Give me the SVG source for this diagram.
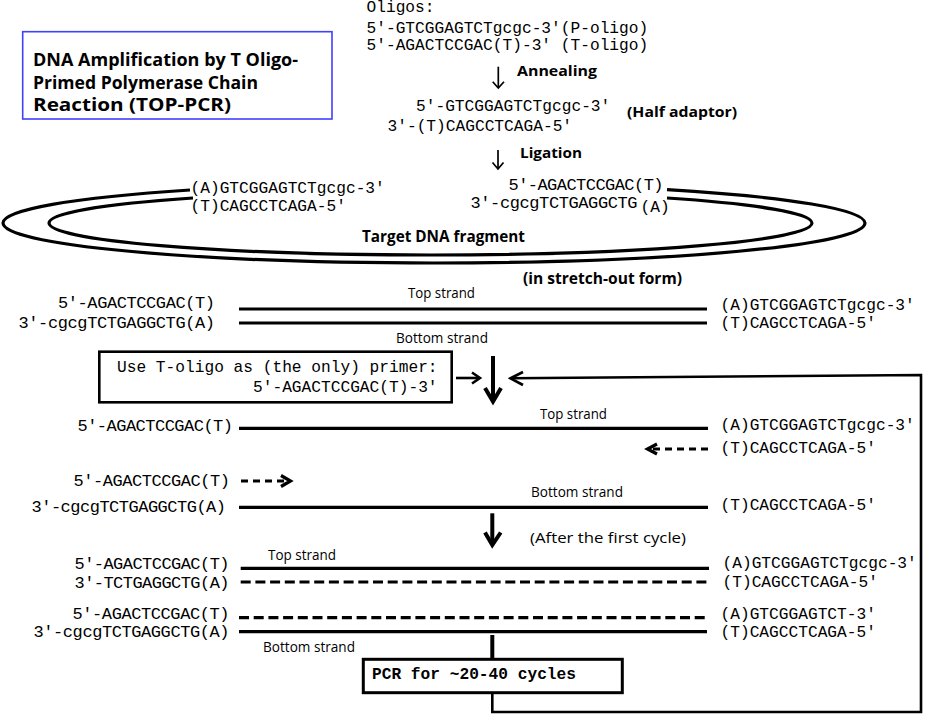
<svg xmlns="http://www.w3.org/2000/svg" width="926" height="717" viewBox="0 0 926 717">
<style>
.m{font-family:"Liberation Mono","Courier New",monospace;font-size:16.2px;fill:#000}
.ml{font-size:17px}
.b{font-family:"Open Sans","Liberation Sans",sans-serif;font-weight:bold;fill:#000}
.s{font-family:"Open Sans","Liberation Sans",sans-serif;font-size:14px;fill:#000}
.ln{stroke:#000;stroke-width:3.2;fill:none}
.ds{stroke-dasharray:10 4.7}
.da{stroke-dasharray:7 5}
.thin{stroke:#000;stroke-width:1.7;fill:none}
.thick{stroke:#000;stroke-width:4;fill:none}
.med{stroke:#000;stroke-width:2.6;fill:none}
</style>
<rect width="926" height="717" fill="#fff"/>

<g id="title">
<rect x="22.7" y="31.7" width="309.3" height="87.3" fill="none" stroke="#4040ff" stroke-width="1.6"/>
<text class="b" font-size="18" x="33" y="66" textLength="265" lengthAdjust="spacingAndGlyphs">DNA Amplification by T Oligo-</text>
<text class="b" font-size="18" x="33" y="89" textLength="225" lengthAdjust="spacingAndGlyphs">Primed Polymerase Chain</text>
<text class="b" font-size="18" x="33" y="111" textLength="198" lengthAdjust="spacingAndGlyphs">Reaction (TOP-PCR)</text>
</g>

<g id="oligos">
<text class="m" x="366.5" y="12">Oligos:</text>
<text class="m" x="366.5" y="32.5">5′-GTCGGAGTCTgcgc-3′(P-oligo)</text>
<text class="m" x="366.5" y="50">5′-AGACTCCGAC(T)-3′ (T-oligo)</text>
</g>

<g id="annealing">
<text class="b" font-size="15" x="517" y="76" textLength="80" lengthAdjust="spacingAndGlyphs">Annealing</text>
</g>

<g id="half-adaptor">
<text class="m" x="416" y="111">5′-GTCGGAGTCTgcgc-3′</text>
<text class="m" x="387.5" y="130.5">3′-(T)CAGCCTCAGA-5′</text>
<text class="b" font-size="15" x="627" y="117" textLength="110" lengthAdjust="spacingAndGlyphs">(Half adaptor)</text>
</g>

<g id="ligation">
<text class="b" font-size="15" x="520" y="158" textLength="62" lengthAdjust="spacingAndGlyphs">Ligation</text>
</g>

<g id="circular-target">
<path class="ln" d="M 190 190 A 431 40 0 0 0 3 223 A 431 40 0 0 0 865 223 A 431 40 0 0 0 667 189.6"/>
<path class="ln" d="M 193 198 A 381.5 32 0 0 0 49 223 A 381.5 32 0 0 0 812 223 A 381.5 32 0 0 0 667 198"/>
<text class="m" x="190.5" y="192.5">(A)GTCGGAGTCTgcgc-3′</text>
<text class="m" x="190.5" y="210.5">(T)CAGCCTCAGA-5′</text>
<text class="m ml" x="508.5" y="190" textLength="155">5′-AGACTCCGAC(T)</text>
<text class="m ml" x="470.5" y="207.5" textLength="167">3′-cgcgTCTGAGGCTG</text>
<text class="m" font-size="15" x="640.5" y="212">(A)</text>
<text class="b" font-size="15.5" x="362" y="242" textLength="163" lengthAdjust="spacingAndGlyphs">Target DNA fragment</text>
<text class="b" font-size="15.5" x="523" y="284" textLength="159" lengthAdjust="spacingAndGlyphs">(in stretch-out form)</text>
</g>

<g id="stretched">
<text class="s" x="408" y="298" textLength="67" lengthAdjust="spacingAndGlyphs">Top strand</text>
<text class="m ml" x="215" y="308" text-anchor="end" textLength="157">5′-AGACTCCGAC(T)</text>
<text class="m ml" x="215" y="327.5" text-anchor="end" textLength="196.5">3′-cgcgTCTGAGGCTG(A)</text>
<line class="ln" x1="239" y1="309" x2="707" y2="309"/>
<line class="ln" x1="239" y1="323" x2="707" y2="323"/>
<text class="m" x="720.5" y="310">(A)GTCGGAGTCTgcgc-3′</text>
<text class="m" x="720.5" y="328">(T)CAGCCTCAGA-5′</text>
<text class="s" x="396" y="343" textLength="92" lengthAdjust="spacingAndGlyphs">Bottom strand</text>
</g>

<g id="primer-box">
<rect x="99.3" y="351.7" width="352.4" height="50.6" fill="none" stroke="#000" stroke-width="2.6"/>
<text class="m" font-size="16.4" x="117" y="371.5">Use T-oligo as (the only) primer:</text>
<text class="m" font-size="16.4" x="253" y="391.5">5′-AGACTCCGAC(T)-3′</text>
</g>

<g id="cycle-1">
<text class="s" x="540" y="419" textLength="67" lengthAdjust="spacingAndGlyphs">Top strand</text>
<text class="m ml" x="233" y="431" text-anchor="end" textLength="155.5">5′-AGACTCCGAC(T)</text>
<line class="ln" x1="239" y1="428.3" x2="708" y2="428.3"/>
<text class="m" x="720.5" y="430">(A)GTCGGAGTCTgcgc-3′</text>
<text class="m" x="720.5" y="453">(T)CAGCCTCAGA-5′</text>
<text class="m ml" x="230" y="486" text-anchor="end" textLength="156.5">5′-AGACTCCGAC(T)</text>
<text class="s" x="531" y="496.5" textLength="92" lengthAdjust="spacingAndGlyphs">Bottom strand</text>
<text class="m ml" x="226" y="512" text-anchor="end" textLength="194.5">3′-cgcgTCTGAGGCTG(A)</text>
<line class="ln" x1="239" y1="507.3" x2="708" y2="507.3"/>
<text class="m" x="720.5" y="510">(T)CAGCCTCAGA-5′</text>
</g>

<g id="after-first-cycle">
<text class="s" font-size="15" x="530" y="543" textLength="156" lengthAdjust="spacingAndGlyphs">(After the first cycle)</text>
<text class="s" x="268" y="560" textLength="68" lengthAdjust="spacingAndGlyphs">Top strand</text>
<text class="m ml" x="229.5" y="569" text-anchor="end" textLength="155">5′-AGACTCCGAC(T)</text>
<line class="ln" x1="240.7" y1="568.3" x2="709" y2="568.3"/>
<text class="m" x="722.5" y="568">(A)GTCGGAGTCTgcgc-3′</text>
<text class="m ml" x="229.5" y="587.5" text-anchor="end" textLength="155">3′-TCTGAGGCTG(A)</text>
<line class="ln ds" x1="240.7" y1="582" x2="708" y2="582"/>
<text class="m" x="722.5" y="586.5">(T)CAGCCTCAGA-5′</text>
<text class="m ml" x="229.5" y="619" text-anchor="end" textLength="157">5′-AGACTCCGAC(T)</text>
<line class="ln ds" x1="239" y1="617.7" x2="708" y2="617.7"/>
<text class="m" x="720.5" y="618.5">(A)GTCGGAGTCT-3′</text>
<text class="m ml" x="229.5" y="637" text-anchor="end" textLength="196">3′-cgcgTCTGAGGCTG(A)</text>
<line class="ln" x1="239" y1="631.7" x2="707" y2="631.7"/>
<text class="m" x="720.5" y="636.5">(T)CAGCCTCAGA-5′</text>
<text class="s" x="263" y="651.5" textLength="92" lengthAdjust="spacingAndGlyphs">Bottom strand</text>
</g>

<g id="pcr-box">
<rect x="363.3" y="659.3" width="259" height="33.4" fill="none" stroke="#000" stroke-width="3"/>
<text class="m" font-size="18.7" font-weight="bold" x="372" y="679">PCR for ~20-40 cycles</text>
</g>

<g id="connectors">
<path class="thin" d="M 498.3 66.7 V 88"/>
<path class="thin" d="M 492.7 81.7 L 498.3 88 L 504 81.7"/>
<path class="thin" d="M 498 150 V 169"/>
<path class="thin" d="M 492.5 162.5 L 498 169 L 503.5 162.5"/>
<path class="thick" d="M 493 356 V 401"/>
<path class="thick" d="M 485 388 L 493 401.5 L 501 388"/>
<path class="med" d="M 456 378 H 479"/>
<path class="med" d="M 472 372.5 L 480 378 L 472 383.5"/>
<path class="med" d="M 511 378.3 L 921 375 V 712 H 492.3 V 692.7"/>
<path class="med" d="M 523 372 L 510.5 378.3 L 523 385"/>
<path class="ln da" d="M 708 449 H 650"/>
<path class="ln" d="M 657 444 L 647.5 449 L 657 454"/>
<path class="ln da" d="M 241 481 H 288"/>
<path class="ln" d="M 281 475.5 L 290.5 481 L 281 486.5"/>
<path class="thick" d="M 492.3 513.3 V 544"/>
<path class="thick" d="M 485 532.5 L 492.3 545 L 500.7 532.5"/>
<path class="thick" d="M 492.3 635 V 658"/>
</g>
</svg>
